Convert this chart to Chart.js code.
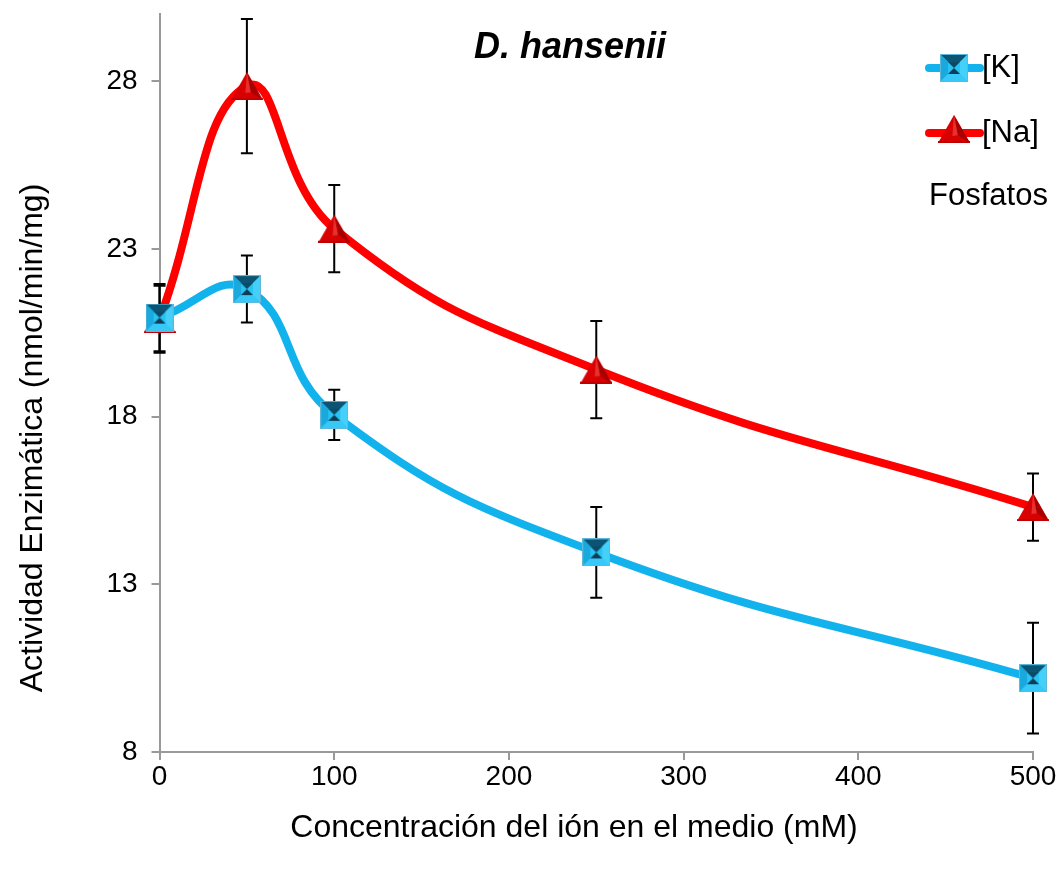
<!DOCTYPE html>
<html>
<head>
<meta charset="utf-8">
<script src="https://cdn.jsdelivr.net/npm/chart.js@4"></script>
<style>
  html, body { margin: 0; padding: 0; background: #fff; }
  #wrap { width: 1062px; height: 873px; position: relative; overflow: hidden; }
  #chart { position: absolute; left: 0; top: -8px; }
</style>
</head>
<body>
<div id="wrap"><canvas id="chart" width="1062" height="881"></canvas></div>
<script>
// Data
const concentrations = [0, 50, 100, 250, 500];
const kValues  = [20.95, 21.8, 18.05, 13.95, 10.2];
const kErrors  = [1.0, 1.0, 0.75, 1.35, 1.65];
const naValues = [20.9, 27.85, 23.6, 19.4, 15.3];
const naErrors = [1.0, 2.0, 1.3, 1.45, 1.0];
const xTicks = [0, 100, 200, 300, 400, 500];
const yTicks = [8, 13, 18, 23, 28];

const FONT = "'Liberation Sans', Arial, sans-serif";
const CYAN = '#12B2EC';
const RED = '#FF0000';
const SHIFT = 8; // canvas sits 8px above the page top
const X_TITLE = 'Concentración del ión en el medio (mM)';
const Y_TITLE = 'Actividad Enzimática (nmol/min/mg)';

// bevelled square marker (K)
function makeSquare(size) {
  const c = document.createElement('canvas');
  c.width = size; c.height = size;
  const g = c.getContext('2d');
  const s = size, m = Math.round(size * 0.28);
  g.fillStyle = '#27C3F5'; g.fillRect(0, 0, s, s);
  // top face dark
  g.fillStyle = '#0C5473';
  g.beginPath(); g.moveTo(0, 0); g.lineTo(s, 0); g.lineTo(s - m, m); g.lineTo(m, m); g.closePath(); g.fill();
  // left face
  g.fillStyle = '#1AA9DC';
  g.beginPath(); g.moveTo(0, 0); g.lineTo(m, m); g.lineTo(m, s - m); g.lineTo(0, s); g.closePath(); g.fill();
  // right face
  g.fillStyle = '#45D0FA';
  g.beginPath(); g.moveTo(s, 0); g.lineTo(s - m, m); g.lineTo(s - m, s - m); g.lineTo(s, s); g.closePath(); g.fill();
  // bottom face
  g.fillStyle = '#36C8F7';
  g.beginPath(); g.moveTo(0, s); g.lineTo(m, s - m); g.lineTo(s - m, s - m); g.lineTo(s, s); g.closePath(); g.fill();
  // inner hourglass
  g.fillStyle = '#0C4A66';
  g.beginPath(); g.moveTo(m, m); g.lineTo(s - m, m); g.lineTo(s / 2, s / 2); g.closePath(); g.fill();
  g.fillStyle = '#0E3D55';
  g.beginPath(); g.moveTo(m, s - m); g.lineTo(s - m, s - m); g.lineTo(s / 2, s / 2); g.closePath(); g.fill();
  g.strokeStyle = '#5FB8DA'; g.lineWidth = 1; g.strokeRect(0.5, 0.5, s - 1, s - 1);
  return c;
}

// shaded triangle marker (Na)
function makeTriangle(w, h) {
  const c = document.createElement('canvas');
  c.width = w; c.height = h;
  const g = c.getContext('2d');
  g.fillStyle = '#D80000';
  g.beginPath(); g.moveTo(w / 2, 0); g.lineTo(w, h); g.lineTo(0, h); g.closePath(); g.fill();
  g.fillStyle = '#A80000';
  g.beginPath(); g.moveTo(w / 2, 0); g.lineTo(w, h); g.lineTo(w * 0.62, h * 0.72); g.closePath(); g.fill();
  g.fillStyle = '#E83030';
  g.beginPath(); g.moveTo(w / 2, 0); g.lineTo(w * 0.62, h * 0.72); g.lineTo(w * 0.45, h * 0.75); g.closePath(); g.fill();
  g.fillStyle = '#C00000';
  g.fillRect(0, h - 2, w, 2);
  return c;
}

const squareImg = makeSquare(28);
const triImg = makeTriangle(32, 28);

const errorBars = {
  id: 'errorBars',
  beforeDatasetsDraw(chart) {
    const { ctx, scales: { x, y } } = chart;
    ctx.save();
    ctx.strokeStyle = '#000';
    ctx.lineWidth = 2;
    [[kValues, kErrors], [naValues, naErrors]].forEach(([vals, errs]) => {
      vals.forEach((v, i) => {
        const px = x.getPixelForValue(concentrations[i]);
        const top = y.getPixelForValue(v + errs[i]);
        const bot = y.getPixelForValue(v - errs[i]);
        ctx.beginPath();
        ctx.moveTo(px, top); ctx.lineTo(px, bot);
        ctx.moveTo(px - 6, top); ctx.lineTo(px + 6, top);
        ctx.moveTo(px - 6, bot); ctx.lineTo(px + 6, bot);
        ctx.stroke();
      });
    });
    ctx.restore();
  }
};

// title, axis titles (off-centre like the original) and legend
const legendAndTitle = {
  id: 'legendAndTitle',
  afterDraw(chart) {
    const ctx = chart.ctx;
    ctx.save();
    ctx.translate(0, SHIFT);
    ctx.fillStyle = '#000';
    ctx.font = 'italic bold 36px ' + FONT;
    ctx.textAlign = 'center';
    ctx.textBaseline = 'middle';
    ctx.fillText('D. hansenii', 570, 48);

    ctx.font = '32px ' + FONT;
    ctx.fillText(X_TITLE, 574, 828);
    ctx.save();
    ctx.translate(33, 438);
    ctx.rotate(-Math.PI / 2);
    ctx.fillText(Y_TITLE, 0, 0);
    ctx.restore();

    ctx.font = '31px ' + FONT;
    ctx.textAlign = 'left';
    const items = [[CYAN, squareImg, '[K]', 68], [RED, triImg, '[Na]', 133]];
    items.forEach(([col, img, label, yy]) => {
      ctx.strokeStyle = col;
      ctx.lineWidth = 8;
      ctx.lineCap = 'round';
      ctx.beginPath(); ctx.moveTo(929, yy); ctx.lineTo(980, yy); ctx.stroke();
      ctx.drawImage(img, 954 - img.width / 2, yy - img.height / 2 - (img === triImg ? 4 : 0));
      ctx.fillText(label, 982, yy);
    });
    ctx.fillText('Fosfatos', 929, 196);
    ctx.restore();
  }
};

new Chart(document.getElementById('chart'), {
  type: 'line',
  data: {
    datasets: [
      {
        label: '[K]',
        data: concentrations.map((c, i) => ({ x: c, y: kValues[i] })),
        borderColor: CYAN,
        borderWidth: 8,
        tension: 0.45,
        pointStyle: squareImg,
        pointRadius: 14,
        clip: false
      },
      {
        label: '[Na]',
        data: concentrations.map((c, i) => ({ x: c, y: naValues[i] })),
        borderColor: RED,
        borderWidth: 8,
        tension: 0.45,
        pointStyle: triImg,
        pointRadius: 14,
        clip: false
      }
    ]
  },
  options: {
    responsive: false,
    animation: false,
    layout: { padding: { left: 12, right: 29, top: 0, bottom: 20 } },
    plugins: { legend: { display: false }, tooltip: { enabled: false } },
    scales: {
      x: {
        type: 'linear',
        min: 0, max: 500,
        afterBuildTicks: axis => { axis.ticks = xTicks.map(v => ({ value: v })); },
        ticks: { color: '#000', font: { family: FONT, size: 28 }, padding: 0, maxRotation: 0 },
        grid: { drawOnChartArea: false, tickLength: 8, color: '#999', lineWidth: 2 },
        border: { color: '#999', width: 2 },
        // title space is kept here, the text itself is drawn by the plugin
        title: { display: true, text: X_TITLE, color: 'rgba(0,0,0,0)', font: { family: FONT, size: 32 }, padding: { top: 17 } }
      },
      y: {
        min: 8, max: 30,
        afterBuildTicks: axis => { axis.ticks = yTicks.map(v => ({ value: v })); },
        ticks: { color: '#000', font: { family: FONT, size: 28, lineHeight: 0.5 }, padding: 14 },
        grid: { drawOnChartArea: false, tickLength: 8, color: '#999', lineWidth: 2 },
        border: { color: '#999', width: 2 },
        title: { display: true, text: Y_TITLE, color: 'rgba(0,0,0,0)', font: { family: FONT, size: 32 }, padding: { bottom: 38 } }
      }
    }
  },
  plugins: [errorBars, legendAndTitle]
});
</script>
</body>
</html>
